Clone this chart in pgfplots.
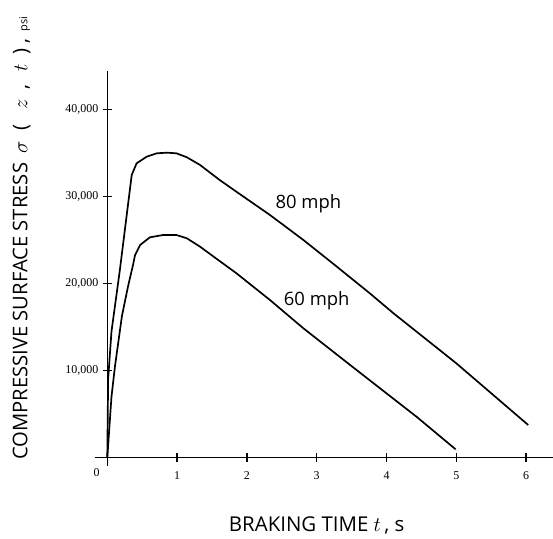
\documentclass[border=0pt]{standalone}
\usepackage{pgfplots}
\pgfplotsset{compat=1.18}
\usepackage{fontspec}
\setmainfont{Liberation Serif}
\newfontfamily\lab{Open Sans}

\pgfplotstableread{
x y
0 0
0.012 9000
0.06 14500
0.18 21570
0.35 32500
0.42 33840
0.565 34600
0.71 34990
0.85 35060
0.99 34990
1.14 34530
1.33 33640
1.61 31920
1.85 30570
2.33 27900
2.81 25020
3.29 21950
3.76 18900
4.1 16600
5.0 10850
6.03 3760
}\eighty

\pgfplotstableread{
x y
0 0
0.06 7000
0.11 10500
0.21 16300
0.3 19800
0.37 22200
0.397 23280
0.47 24450
0.61 25330
0.8 25600
0.99 25600
1.14 25220
1.33 24250
1.59 22720
1.85 21200
2.33 18130
2.81 14870
3.48 10650
4.43 4710
4.99 965
}\sixty

\begin{document}
\begin{tikzpicture}
\begin{axis}[
  scale only axis, width=458.6bp, height=394.1bp,
  xmin=-0.18, xmax=6.39, ymin=-900, ymax=44400,
  axis lines=middle,
  axis line style={-, line width=1.1pt},
  scaled y ticks=false,
  xtick={1,2,3,4,5,6}, xticklabels={1,2,3,4,5,6},
  ytick={10000,20000,30000,40000},
  yticklabels={{10,000},{20,000},{30,000},{40,000}},
  tick align=center, major tick length=9bp,
  every tick/.style={line width=1.3pt, black},
  ticklabel style={font=\fontsize{12}{12}\selectfont},
  xticklabel style={anchor=center, yshift=-13bp},
  yticklabel style={anchor=east, xshift=-1bp},
  clip=false,
]
\addplot[black, line width=1.7pt, line join=round] table {\eighty};
\addplot[black, line width=1.7pt, line join=round] table {\sixty};
\node[font=\fontsize{12}{12}\selectfont] at (axis cs:-0.152,-1760) {0};
\node[font=\lab\fontsize{18.5}{22}\selectfont] at (axis cs:2.88,29160) {80 mph};
\node[font=\lab\fontsize{18.5}{22}\selectfont] at (axis cs:3.0,18050) {60 mph};
\node[font=\lab\fontsize{20.5}{24}\selectfont] at (axis cs:3.0,-7736) {BRAKING TIME $t$\,, s};
\node[rotate=90, anchor=west, inner sep=0pt, font=\lab\fontsize{20.3}{24}\selectfont] at (axis cs:-1.226,-264)
  {COMPRESSIVE SURFACE STRESS\hspace{9bp}$\sigma$\hspace{11bp}(\hspace{15bp}$z$\hspace{10bp},\hspace{13bp}$t$\hspace{10bp})\hspace{5bp},\hspace{7bp}{\fontsize{11}{11}\selectfont psi}};
\coordinate (BL) at (axis cs:-1.537,-9230);
\coordinate (TR) at (axis cs:6.385,52609);
\end{axis}
\pgfresetboundingbox
\useasboundingbox (BL) rectangle (TR);
\end{tikzpicture}
\end{document}
